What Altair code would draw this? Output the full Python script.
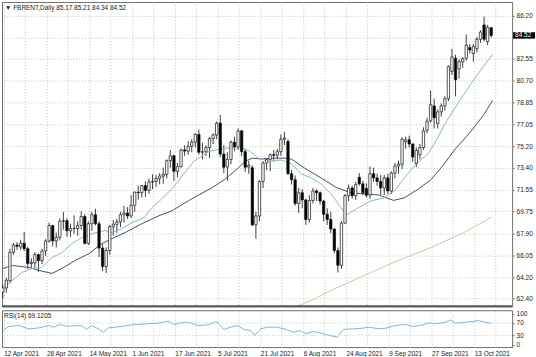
import altair as alt
import pandas as pd

# ---------------- data ----------------
opens = [62.95, 63.30, 63.90, 66.30, 66.90, 66.75, 67.05, 66.60, 65.35, 65.40,
         66.10, 65.60, 66.40, 67.25, 68.55, 67.25, 67.55, 68.90, 68.95, 68.10,
         68.30, 68.30, 68.55, 69.30, 67.05, 68.70, 69.45, 68.70, 66.65, 65.10,
         66.45, 68.45, 68.65, 68.85, 69.45, 69.60, 69.35, 70.25, 71.35, 71.30,
         71.90, 71.50, 72.20, 72.25, 72.50, 72.70, 72.85, 74.00, 74.40, 73.10,
         73.50, 74.90, 74.80, 75.20, 75.55, 76.20, 74.70, 74.75, 75.10, 75.85,
         76.15, 77.15, 74.55, 73.45, 74.10, 75.55, 75.15, 76.50, 74.75, 73.45,
         73.40, 68.60, 69.35, 72.25, 73.80, 74.10, 74.50, 74.45, 74.75, 75.80,
         75.60, 72.90, 72.40, 70.40, 71.30, 70.70, 69.05, 70.65, 71.45, 71.30,
         70.60, 69.50, 69.05, 68.25, 66.45, 65.20, 68.75, 71.05, 71.70, 71.05,
         72.60, 72.05, 71.65, 71.10, 72.90, 72.55, 72.25, 71.70, 72.55, 71.45,
         72.95, 73.55, 73.70, 75.60, 75.75, 75.40, 73.75, 74.50, 75.10, 76.55,
         77.35, 78.60, 77.10, 78.10, 78.60, 79.20, 81.50, 82.60, 81.70, 82.30,
         82.60, 83.50, 83.00, 83.40, 84.20, 85.40, 84.00, 85.17]
highs = [63.60, 64.15, 66.60, 67.10, 67.15, 67.35, 68.00, 66.75, 65.80, 66.30,
         66.20, 66.60, 67.40, 68.80, 68.60, 67.95, 69.15, 69.70, 69.15, 68.70,
         69.40, 68.90, 69.75, 69.50, 68.90, 69.70, 69.95, 68.90, 67.00, 66.70,
         68.60, 69.00, 69.10, 69.70, 70.20, 70.10, 71.10, 71.40, 71.90, 71.95,
         72.25, 72.50, 72.85, 72.80, 72.95, 73.40, 74.10, 74.90, 74.50, 73.80,
         75.00, 75.30, 75.65, 75.80, 76.30, 76.60, 75.50, 75.30, 76.00, 76.30,
         77.30, 77.84, 75.30, 74.70, 75.70, 76.00, 76.70, 76.55, 75.00, 74.00,
         73.60, 69.70, 72.35, 73.95, 74.20, 74.60, 74.90, 75.00, 76.20, 76.40,
         75.80, 73.20, 72.75, 71.70, 71.60, 70.80, 71.10, 71.70, 71.60, 71.40,
         70.70, 70.00, 69.70, 68.30, 66.70, 68.90, 71.20, 72.00, 71.90, 72.20,
         72.95, 72.30, 72.10, 73.50, 73.40, 72.90, 72.80, 72.80, 72.90, 73.10,
         73.80, 74.00, 75.95, 76.00, 76.10, 75.45, 75.10, 75.40, 76.80, 77.60,
         79.90, 79.20, 78.30, 78.80, 79.40, 82.00, 83.40, 82.90, 82.50, 82.70,
         84.60, 83.80, 83.80, 84.40, 84.95, 86.10, 85.40, 85.21]
lows = [62.45, 62.90, 63.70, 66.10, 66.50, 66.50, 66.40, 64.90, 64.95, 65.00,
        64.65, 65.30, 66.00, 67.10, 66.80, 66.70, 67.30, 68.20, 67.60, 67.60,
        67.85, 67.70, 68.20, 66.95, 66.90, 68.10, 68.55, 65.90, 64.70, 64.55,
        66.10, 67.70, 67.90, 68.40, 68.80, 69.10, 69.20, 69.70, 70.70, 70.90,
        70.95, 71.20, 71.60, 71.80, 72.00, 72.05, 72.50, 73.40, 72.30, 72.60,
        73.40, 74.40, 74.50, 74.70, 75.10, 74.50, 74.10, 74.40, 74.20, 75.40,
        75.80, 74.30, 72.95, 72.30, 73.70, 74.80, 74.90, 74.40, 73.05, 72.90,
        68.50, 67.44, 68.90, 71.70, 73.20, 73.10, 73.90, 74.10, 74.40, 75.30,
        72.80, 72.00, 70.20, 69.60, 70.00, 68.60, 68.80, 70.40, 70.60, 70.30,
        68.90, 68.60, 67.90, 66.20, 64.60, 64.90, 68.70, 70.60, 70.80, 70.70,
        71.90, 71.10, 70.90, 70.80, 72.20, 71.90, 71.10, 71.10, 71.20, 71.20,
        72.50, 72.90, 73.30, 75.00, 75.10, 73.90, 73.45, 74.10, 74.90, 76.30,
        77.20, 76.70, 76.70, 77.70, 78.20, 79.00, 81.20, 79.40, 80.90, 81.80,
        82.40, 83.00, 82.30, 83.10, 83.90, 84.00, 83.70, 84.34]
closes = [63.30, 63.95, 66.30, 66.90, 66.80, 67.05, 66.60, 65.35, 65.45, 66.10,
          65.60, 66.40, 67.25, 68.55, 67.25, 67.55, 68.90, 68.95, 68.10, 68.30,
          68.30, 68.55, 69.30, 67.05, 68.70, 69.45, 68.70, 66.65, 65.10, 66.45,
          68.45, 68.65, 68.85, 69.45, 69.60, 69.35, 70.25, 71.35, 71.30, 71.90,
          71.50, 72.20, 72.25, 72.50, 72.70, 72.85, 74.00, 74.40, 73.10, 73.50,
          74.90, 74.80, 75.20, 75.55, 76.20, 74.70, 74.75, 75.10, 75.85, 76.15,
          77.15, 74.55, 73.45, 74.10, 75.55, 75.15, 76.50, 74.75, 73.45, 73.60,
          68.60, 69.35, 72.25, 73.80, 74.10, 74.50, 74.45, 74.75, 75.80, 75.90,
          72.90, 72.40, 70.40, 71.30, 70.70, 69.05, 70.65, 71.45, 71.30, 70.60,
          69.50, 69.05, 68.25, 66.45, 65.20, 68.75, 71.05, 71.70, 71.05, 72.00,
          72.05, 71.30, 71.10, 72.90, 72.55, 72.25, 71.70, 72.55, 71.45, 72.95,
          73.55, 73.70, 75.80, 75.75, 75.40, 74.30, 74.85, 75.10, 76.50, 77.30,
          78.70, 77.60, 78.10, 78.60, 79.20, 81.90, 82.70, 80.80, 82.30, 82.55,
          83.70, 83.30, 83.60, 84.20, 84.80, 84.20, 85.20, 84.52]

fast_bar = [0, 2.7, 5.5, 8.2, 11, 13.8, 16.6, 19.4, 22.2, 25, 28.7, 30.6, 33.4, 36.2,
            39.6, 41.8, 44, 47.4, 49, 53.6, 58, 62.8, 67, 69.2, 71.7, 74.5, 78.2, 81,
            83.8, 86.6, 89.3, 92.1, 94.9, 96.5, 99.7, 103.3, 107, 109.8, 112.6, 115.4,
            119.3, 122, 124, 128, 132.7, 137.4]
fast_val = [63.27, 63.94, 64.61, 64.94, 65.02, 65.86, 66.28, 67.03, 67.53, 67.87,
            68.12, 67.95, 68.28, 68.78, 69.20, 70.04, 70.62, 71.62, 72.2, 73.96,
            74.80, 75.05, 75.05, 74.80, 74.21, 73.96, 74.05, 73.71, 72.88, 72.54,
            72.04, 71.20, 70.04, 69.45, 70.04, 70.62, 70.87, 71.45, 72.54, 73.54,
            74.6, 75.9, 77.1, 78.97, 81.06, 82.93]
slow_bar = [0, 2.7, 7.4, 10.2, 13.8, 16.6, 20.3, 24.2, 27.8, 30.6, 34.3, 39, 43.8, 47.4,
            53, 58.6, 62.2, 66.1, 68, 70, 72.6, 75.4, 79, 81, 84.6, 89.3, 93.5, 97.7,
            101.4, 105.3, 109.6, 112.6, 116.5, 120.1, 123.5, 127, 130, 132.5, 135, 137.4]
slow_val = [64.94, 65.19, 65.02, 64.77, 64.52, 64.94, 65.61, 66.19, 67.03, 67.45,
            67.95, 68.70, 69.37, 69.78, 70.79, 71.71, 72.4, 73.4, 73.95, 74.21,
            74.13, 74.21, 74.21, 74.13, 73.38, 72.54, 71.75, 71.29, 71.20, 71.12,
            70.66, 70.87, 71.6, 72.4, 73.6, 75.0, 76.0, 76.9, 77.9, 79.06]
long_bar = [78, 82.1, 86.5, 92.1, 101.4, 110.9, 120.1, 129.3, 137.1]
long_val = [61.2, 61.71, 62.26, 63.10, 64.35, 65.61, 66.69, 67.95, 69.24]

rsi_bar = [0, 1.7, 4.5, 7.3, 10.1, 12.9, 14.3, 16, 17.9, 22.1, 23.5, 24.9, 26.8, 28.2,
           29.6, 33.2, 36, 39.7, 43.6, 46.4, 48, 50.8, 52.8, 54.7, 57.5, 60, 62, 63.9,
           65.9, 67.6, 69.5, 70.6, 72.3, 74.3, 76.8, 79.6, 81.5, 83.2, 85.1, 87.1, 89.9,
           93.8, 95.5, 98.2, 101, 102.7, 105.5, 107.4, 110.2, 113, 115, 117.8, 119.4,
           121.4, 124.2, 125.6, 127, 129.8, 131.7, 133.4, 135.3, 137]
rsi_val = [45.8, 58.7, 61.9, 51.0, 54.2, 61.9, 56.5, 65.2, 59.7, 61.9, 49.0, 61.9,
           51.0, 40.3, 54.2, 58.7, 63.9, 67.1, 69.4, 75.8, 65.2, 72.6, 70.3, 61.9,
           63.9, 74.8, 49.0, 56.5, 61.9, 49.0, 45.8, 29.7, 51.0, 56.5, 56.5, 49.0,
           40.3, 45.8, 34.8, 42.6, 34.8, 24.2, 49.0, 51.0, 53.2, 56.5, 51.0, 53.2,
           61.9, 65.2, 58.7, 63.9, 70.3, 67.1, 72.6, 80.0, 69.4, 72.6, 74.8, 78.1,
           72.6, 69.1]
rsi_levels = [30, 70]
rsi_ticks = [0, 30, 70, 100]
rsi_last = "69.1205"

price_ticks = [86.20, 84.35, 82.55, 80.70, 78.85, 77.05, 75.20, 73.40, 71.55,
               69.75, 67.90, 66.05, 64.20, 62.40]
date_labels = ["12 Apr 2021", "28 Apr 2021", "14 May 2021", "1 Jun 2021",
               "17 Jun 2021", "5 Jul 2021", "21 Jul 2021", "6 Aug 2021",
               "24 Aug 2021", "9 Sep 2021", "27 Sep 2021", "13 Oct 2021"]
symbol_name = "FBRENT,Daily"

# ---------------- layout constants ----------------
W = 513
TOP_H = 306
BOT_H = 37
PX_PER_BAR = 3.585
X0 = 0.8
x_domain = [-X0 / PX_PER_BAR, (W - X0) / PX_PER_BAR]
y_domain = [61.76, 87.33]
rsi_domain = [-8, 111.3]

FONT = "Liberation Sans"
GRID = "#c4c4c4"
FRAME = "#6e6e6e"
TXT = "#222222"

n = len(closes)
df = pd.DataFrame({"i": list(range(n)), "o": opens, "h": highs, "l": lows, "c": closes})
df_fast = pd.DataFrame({"i": fast_bar, "v": fast_val})
df_slow = pd.DataFrame({"i": slow_bar, "v": slow_val})
df_long = pd.DataFrame({"i": long_bar, "v": long_val})
df_rsi = pd.DataFrame({"i": rsi_bar, "v": rsi_val})
df_lvl = pd.DataFrame({"lvl": rsi_levels})
df_last = pd.DataFrame({"c": [closes[-1]], "txt": [f"{closes[-1]:.2f}"]})

grid_x = [0.25 + 6 * k for k in range(24)]
xs = alt.Scale(domain=x_domain, nice=False, zero=False)
ys = alt.Scale(domain=y_domain, nice=False, zero=False)
rs = alt.Scale(domain=rsi_domain, nice=False, zero=False)

# the tick hidden behind the current-price marker keeps its grid line but no label
hide_lo = closes[-1] - 0.3
hide_hi = closes[-1] + 0.3
price_label_expr = (f"(datum.value > {hide_lo} && datum.value < {hide_hi}) ? '' : "
                    f"format(datum.value, '.2f')")

top_x_axis = alt.Axis(values=grid_x, grid=True, gridColor=GRID, gridDash=[1, 2],
                      gridWidth=1, labels=False, ticks=False, domain=False, title=None)
top_y_axis = alt.Axis(orient="right", values=price_ticks, labelExpr=price_label_expr,
                      grid=True, gridColor=GRID, gridDash=[1, 2], domain=False,
                      ticks=True, tickSize=2, tickColor=FRAME, labelFont=FONT,
                      labelFontSize=6.5, labelColor=TXT, labelPadding=2, title=None)


def TX(field):
    return alt.X(field, scale=xs, axis=top_x_axis)


def TY(field):
    return alt.Y(field, scale=ys, axis=top_y_axis)


wicks = alt.Chart(df).mark_rule(color="#111111", strokeWidth=0.8, clip=True).encode(
    x=TX("i:Q"), y=TY("l:Q"), y2="h:Q",
)
bodies = alt.Chart(df).transform_calculate(
    x1="datum.i - 0.33", x2="datum.i + 0.33",
    bt="max(datum.o, datum.c)", bb="min(datum.o, datum.c)",
).mark_rect(stroke="#111111", strokeWidth=0.7, clip=True).encode(
    x=TX("x1:Q"), x2="x2:Q", y=TY("bt:Q"), y2="bb:Q",
    fill=alt.condition("datum.c >= datum.o", alt.value("#ffffff"), alt.value("#000000")),
)


def ma_line(d, color):
    return alt.Chart(d).mark_line(color=color, strokeWidth=1, clip=True).encode(
        x=TX("i:Q"), y=TY("v:Q"),
    )


long_line = ma_line(df_long, "#d6c39e")
slow_line = ma_line(df_slow, "#4a4a78")
fast_line = ma_line(df_fast, "#86bdb3")

title_txt = "\u25bc " + symbol_name + "  " + " ".join(
    f"{v:.2f}" for v in (opens[-1], highs[-1], lows[-1], closes[-1]))
title = alt.Chart(df_last).mark_text(align="left", baseline="middle", font=FONT,
                                     fontSize=6.5, color=TXT).encode(
    x=alt.value(3), y=alt.value(6), text=alt.value(title_txt))

marker_box = alt.Chart(df_last).transform_calculate(
    hi="datum.c + 0.27", lo="datum.c - 0.27"
).mark_rect(color="#000000").encode(
    x=alt.value(W + 1), x2=alt.value(W + 23),
    y=TY("hi:Q"), y2="lo:Q")
marker_txt = alt.Chart(df_last).mark_text(align="left", baseline="middle", font=FONT,
                                          fontSize=6.5, color="#ffffff").encode(
    x=alt.value(W + 3), y=TY("c:Q"), text="txt:N")

# heavier separator line under the price panel
sep = alt.Chart(df_last).mark_rule(color="#555555", strokeWidth=2).encode(
    x=alt.value(0), x2=alt.value(W), y=alt.value(TOP_H))

top = alt.layer(wicks, long_line, slow_line, fast_line, bodies, title,
                marker_box, marker_txt, sep).properties(width=W, height=TOP_H)

labels_js = "[" + ",".join(f"'{s}'" for s in date_labels) + "]"
label_expr = (f"(round(datum.value - 0.25) % 12 == 0) ? "
              f"{labels_js}[round((datum.value - 0.25) / 12)] : ''")
bot_x_axis = alt.Axis(values=grid_x, grid=True, gridColor=GRID, gridDash=[1, 2],
                      labelExpr=label_expr, labelAlign="left", labelBaseline="top",
                      labelPadding=3, labelFont=FONT, labelFontSize=6.5,
                      labelColor=TXT, ticks=False, domain=False, title=None,
                      labelOverlap=False)
bot_y_axis = alt.Axis(orient="right", values=rsi_ticks, grid=False, domain=False,
                      ticks=True, tickSize=2, tickColor=FRAME, labelFont=FONT,
                      labelFontSize=6.5, labelColor=TXT, labelPadding=2, title=None)


def BX(field):
    return alt.X(field, scale=xs, axis=bot_x_axis)


def BY(field):
    return alt.Y(field, scale=rs, axis=bot_y_axis)


rsi_line = alt.Chart(df_rsi).mark_line(color="#7fb3dc", strokeWidth=1, clip=True).encode(
    x=BX("i:Q"), y=BY("v:Q"),
)
rsi_lv = alt.Chart(df_lvl).mark_rule(color=GRID, strokeDash=[1, 2], strokeWidth=1).encode(
    y=BY("lvl:Q"))
rsi_title = alt.Chart(df_last).mark_text(align="left", baseline="middle", font=FONT,
                                         fontSize=6.5, color=TXT).encode(
    x=alt.value(2), y=alt.value(6), text=alt.value(f"RSI(14) {rsi_last}"))

bottom = alt.layer(rsi_line, rsi_lv, rsi_title).properties(width=W, height=BOT_H)

chart = alt.vconcat(top, bottom, spacing=1).properties(
    padding={"left": 0, "top": 0, "right": 0, "bottom": 0},
    background="#ffffff",
).configure_view(stroke=FRAME, strokeWidth=1)

chart.save("out.html", embed_options={"renderer": "svg", "actions": False})
